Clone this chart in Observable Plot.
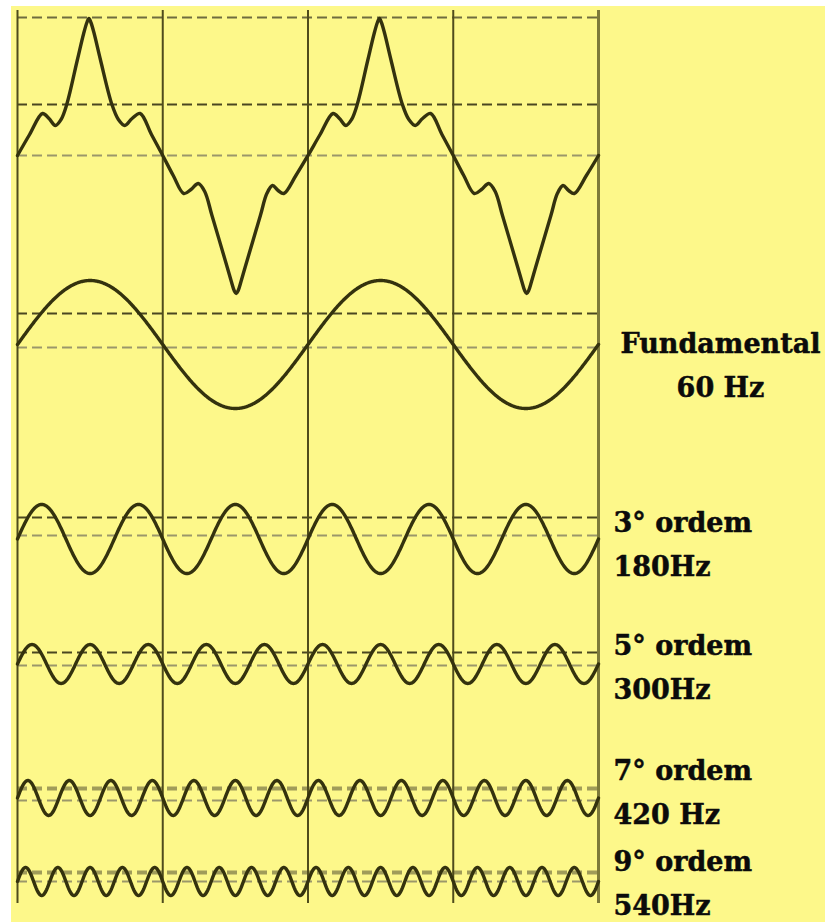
<!DOCTYPE html>
<html>
<head>
<meta charset="utf-8">
<script src="https://cdn.jsdelivr.net/npm/d3@7"></script>
<script src="https://cdn.jsdelivr.net/npm/@observablehq/plot@0.6"></script>
<style>
  html, body { margin: 0; padding: 0; background: #ffffff; }
  #chart { position: absolute; left: 11px; top: 6px; width: 814px; height: 916px; background: #fdf88a; }
  #chart svg { overflow: visible; }
</style>
</head>
<body>
<div id="chart"></div>
<script>
// Harmonic components of a 60 Hz wave
const orders      = [1, 3, 5, 7, 9];
const frequencies = [60, 180, 300, 420, 540];
const amplitudes  = [64, 34.5, 19.5, 17.5, 14];        // peak value of each component
const labels = ["Fundamental\n60 Hz", "3° ordem\n180Hz", "5° ordem\n300Hz", "7° ordem\n420 Hz", "9° ordem\n540Hz"];

// Resulting (distorted) wave over one cycle: phase in degrees, instantaneous value
const compositePhase = [0, 15, 31, 39, 47, 54, 61, 74, 82, 86, 88.5, 91, 95, 103, 117, 125, 133, 142, 152, 166, 180,
                        193, 206, 215, 224, 232, 241, 260, 265, 268.5, 271, 273.5, 277, 282, 301, 309, 316, 323, 330, 345, 360];
const compositeValue = [0, 21, 42, 37, 30, 36, 51, 95, 122, 133, 137, 133, 122, 95, 51, 36, 30, 37, 42, 21, 0,
                        -20, -38, -34, -28, -36, -60, -112, -126, -135, -138, -135, -126, -112, -60, -38, -30, -35, -38, -20, 0];
const cycles = [0, 360];

// Vertical layout of the traces (same units as the y scale)
const compositeCenter = 748;
const rowCenter   = [559, 364.5, 239.5, 105.5, 22];
const labelTop    = [581.5, 402.5, 279.5, 154.5, 63.5];
const dashedDark  = [799, 590, 386, 251];
const dashedMid   = [886];
const dashedLight = [748, 556, 368, 238, 103, 22];
const dashedBand  = [115, 31];

// Sampled harmonic traces
const phase = d3.range(0, 720.5, 1);
const harmonicPts = orders.flatMap((k, i) =>
  phase.map(t => ({row: i, theta: t, v: rowCenter[i] + amplitudes[i] * Math.sin(k * t * Math.PI / 180)}))
);

// Composite trace repeated for each cycle
const compositePts = cycles.flatMap((c, ci) =>
  compositePhase.map((p, j) => ({theta: c + p, v: compositeCenter + compositeValue[j]}))
    .filter((d, j) => ci === 0 || j > 0)
);

const labelData = labels.map((text, i) => ({text, y: labelTop[i], first: i === 0}));

const ink = "#34320e";
const dash = "10,5";
const textStyle = {
  lineAnchor: "top", lineHeight: 1.63, fontSize: 27, fontWeight: "bold", fontFamily: "DejaVu Serif",
  fill: "#0b0b0b", stroke: "#0b0b0b", strokeWidth: 0.5
};

const chart = Plot.plot({
  width: 814,
  height: 916,
  marginLeft: 6,
  marginRight: 227,
  marginTop: 4,
  marginBottom: 19,
  x: {domain: [0, 720], axis: null},
  y: {domain: [0, 893], axis: null},
  style: {background: "transparent", overflow: "visible"},
  marks: [
    Plot.ruleY(dashedBand, {stroke: "#8f8c50", strokeWidth: 4, strokeDasharray: dash, strokeOpacity: 0.85}),
    Plot.ruleY(dashedLight, {stroke: "#9b976a", strokeWidth: 2, strokeDasharray: dash}),
    Plot.ruleY(dashedMid, {stroke: "#6f6c3e", strokeWidth: 2, strokeDasharray: dash}),
    Plot.ruleY(dashedDark, {stroke: "#4a4720", strokeWidth: 2, strokeDasharray: dash}),
    Plot.ruleX([0, 180, 360, 540], {stroke: "#4f4c1c", strokeWidth: 2}),
    Plot.ruleX([720], {stroke: "#7d7a3a", strokeWidth: 3}),
    Plot.line(harmonicPts, {x: "theta", y: "v", z: "row", stroke: ink, strokeWidth: 3.4}),
    Plot.line(compositePts, {x: "theta", y: "v", stroke: ink, strokeWidth: 3.4, curve: "catmull-rom"}),
    Plot.text(labelData.filter(d => d.first), {
      x: () => 720, y: "y", text: "text", dx: 122, textAnchor: "middle", ...textStyle
    }),
    Plot.text(labelData.filter(d => !d.first), {
      x: () => 720, y: "y", text: "text", dx: 15, textAnchor: "start", ...textStyle
    })
  ]
});

document.getElementById("chart").append(chart);
</script>
</body>
</html>
